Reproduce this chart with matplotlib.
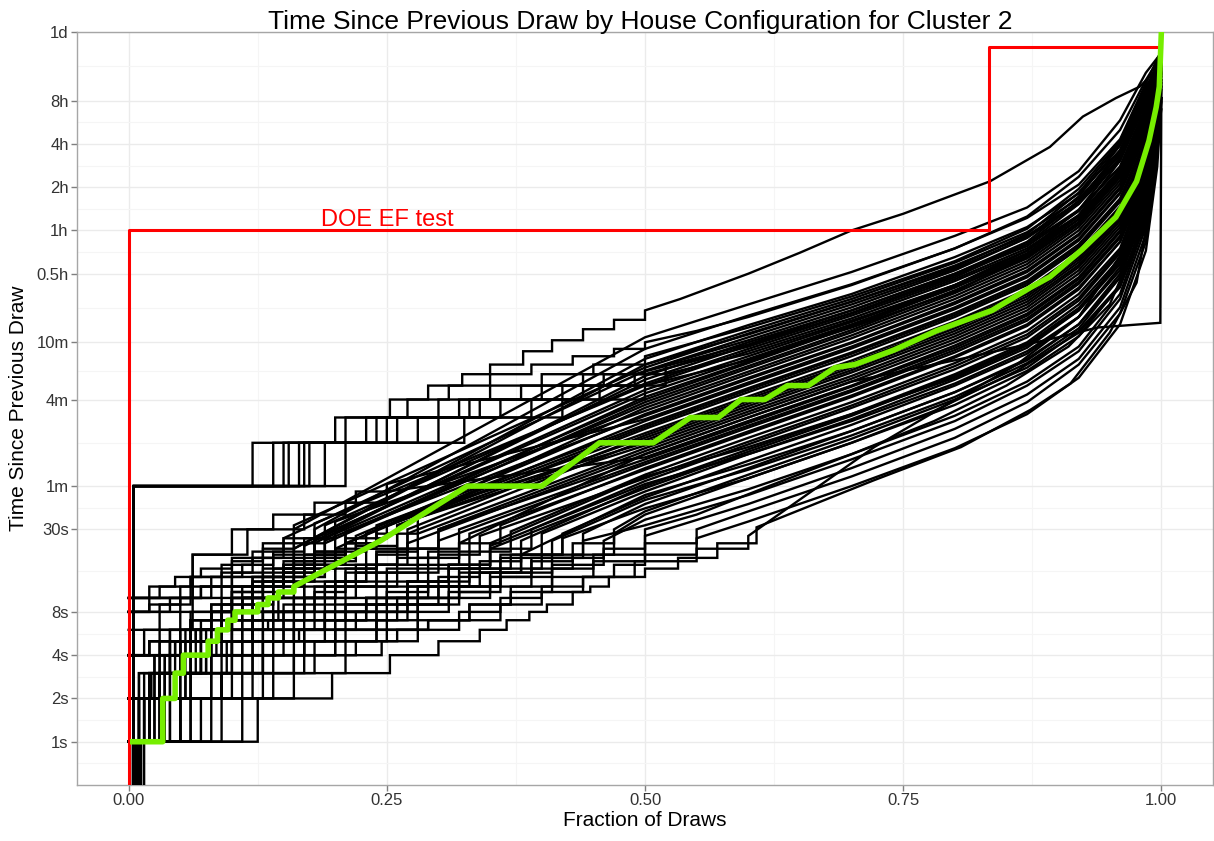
import matplotlib
matplotlib.use("Agg")
import matplotlib.pyplot as plt
from matplotlib.ticker import NullFormatter
import numpy as np

plt.rcParams["font.family"] = ["Liberation Sans", "DejaVu Sans"]

# ---- data (fraction of draws, seconds since previous draw) ----
TICK_S = [1, 2, 4, 8, 30, 60, 240, 600, 1800, 3600, 7200, 14400, 28800, 86400]
TICK_LBL = ["1s", "2s", "4s", "8s", "30s", "1m", "4m", "10m", "0.5h", "1h", "2h", "4h", "8h", "1d"]
X_TICKS = [0.0, 0.25, 0.5, 0.75, 1.0]

# DOE EF test profile
DOE_X = [0.0, 0.0, 0.8333, 0.8333, 1.0]
DOE_S = [0.01, 3600, 3600, 68400, 68400]

# cluster median house (green); first GREEN_NSTEP knots are second-level steps
GREEN_X = [0.004, 0.033, 0.045, 0.053, 0.077, 0.086, 0.096, 0.103, 0.125, 0.135, 0.145, 0.16,
           0.244, 0.328, 0.40, 0.456, 0.508, 0.544, 0.571, 0.593, 0.616, 0.638, 0.658, 0.684,
           0.703, 0.741, 0.782, 0.836, 0.873, 0.892, 0.923, 0.956, 0.976, 0.988, 0.995, 0.998, 1.0]
GREEN_S = [1, 2, 3, 4, 5, 6, 7, 8, 9, 10, 11, 12,
           25, 60, 60, 120, 120, 180, 180, 240, 240, 300, 300, 400,
           420, 530, 720, 1000, 1440, 1710, 2640, 4460, 7900, 15100, 25900, 36000, 86400]
GREEN_NSTEP = 12

# shared tail positions for most houses
T8 = [.6, .7, .8, .87, .92, .96, .985, 1.0]
T9 = [.6, .7, .8, .87, .92, .96, .985, .996, 1.0]

# individual houses (black); first HOUSE_NSTEP[i] knots drawn as steps
HOUSE_X = [
    [0, .125, .197, .253, .30, .34, .366, .388, .405, .43, .447, .465, .50, .532, .57, .608, .722, .806, .873, .912, .95, .976, .992, 1.0],
    [0, .008, .11, .16, .21, .245, .28, .32, .36, .40, .44, .49, .55, .60, .722, .79, .86, .92, .96, .985, 1.0],
    [0, .09, .14, .18, .22, .26, .29, .33, .37, .41, .45, .50, .55, .62, .70, .78, .85, .91, .95, .98, .995, 1.0],
    [0, .07, .12, .16, .2, .24, .28, .31, .35, .39, .43, .47, .5, .6, .7, .78, .86, .92, .96, .985, 1.0],
    [0, .005, .06, .1, .14, .18, .21, .25, .28, .32, .36, .4, .44, .5] + T8,
    [0, .05, .09, .12, .15, .19, .22, .26, .3, .34, .38, .42, .5] + T8,
    [0, .01, .04, .08, .11, .14, .17, .2, .24, .28, .32, .36, .4, .5] + T8,
    [0, .04, .08, .12, .16, .19, .22, .26, .3, .34, .38, .5] + T8,
    [0, .015, .05, .08, .1, .13, .16, .19, .23, .27, .31, .35, .39, .5] + T8,
    [0, .03, .06, .09, .12, .15, .18, .21, .25, .29, .33, .37, .5] + T8,
    [0, .03, .06, .1, .13, .17, .2, .24, .28, .32, .36, .5] + T8,
    [0, .02, .045, .07, .09, .11, .14, .17, .2, .24, .28, .32, .5] + T8,
    [0, .005, .062, .115, .17, .21, .25, .5] + T8,
    [0, .025, .05, .075, .1, .12, .14, .17, .2, .23, .26, .3, .5] + T8,
    [0, .02, .05, .08, .12, .15, .18, .21, .24, .28, .5] + T8,
    [0, .012, .035, .055, .075, .095, .12, .15, .18, .21, .24, .27, .5] + T8,
    [0, .03, .06, .09, .12, .15, .18, .21, .24, .27, .5] + T8,
    [0, .02, .04, .06, .08, .1, .12, .145, .17, .2, .23, .26, .5] + T8,
    [0, .03, .06, .09, .12, .15, .18, .21, .24, .5] + T8,
    [0, .062, .1, .14, .18, .22, .25, .5] + T8,
    [0, .015, .03, .05, .07, .09, .11, .13, .16, .19, .22, .5] + T8,
    [0, .02, .04, .06, .08, .1, .12, .14, .17, .2, .5] + T8,
    [0, .005, .02, .035, .05, .07, .09, .11, .13, .16, .19, .5] + T8,
    [0, .02, .04, .06, .08, .1, .12, .15, .18, .21, .5] + T8,
    [0, .01, .025, .04, .055, .07, .09, .11, .14, .17, .2, .5] + T8,
    [0, .04, .07, .1, .13, .16, .19, .5] + T8,
    [0, .015, .03, .045, .06, .08, .1, .12, .15, .18, .5] + T8,
    [0, .02, .045, .07, .1, .13, .16, .5] + T8,
    [0, .01, .025, .04, .06, .08, .1, .13, .16, .5] + T8,
    [0, .05, .1, .14, .18, .5] + T8,
    [0, .06, .1, .13, .16, .5] + T8,
    # second batch
    [0, .004, .05, .09, .13, .17, .2, .24, .27, .31, .35, .39, .43, .47, .5] + T9,
    [0, .06, .1, .13, .16, .19, .23, .27, .31, .35, .5] + T9,
    [0, .02, .045, .065, .085, .11, .135, .16, .19, .22, .26, .3, .34, .5] + T9,
    [0, .006, .03, .055, .08, .1, .12, .15, .18, .21, .25, .29, .33, .5] + T9,
    [0, .04, .07, .1, .13, .16, .19, .22, .26, .3, .5] + T9,
    [0, .015, .03, .05, .07, .09, .11, .13, .16, .19, .22, .26, .3, .5] + T9,
    [0, .03, .055, .08, .1, .12, .145, .17, .2, .23, .27, .5] + T9,
    [0, .01, .03, .045, .06, .08, .1, .12, .14, .17, .2, .24, .28, .5] + T9,
    [0, .03, .06, .09, .12, .15, .18, .21, .25, .5] + T9,
    [0, .01, .025, .04, .055, .07, .09, .11, .13, .16, .19, .22, .26, .5] + T9,
    [0, .02, .05, .08, .11, .14, .17, .2, .24, .5] + T9,
    [0, .008, .02, .035, .05, .065, .08, .1, .12, .14, .17, .2, .23, .5] + T9,
    [0, .02, .04, .06, .08, .1, .12, .15, .18, .21, .5] + T9,
    [0, .01, .022, .035, .05, .065, .08, .1, .12, .15, .18, .21, .5] + T9,
    [0, .02, .05, .08, .11, .14, .17, .2, .5] + T9,
    [0, .005, .015, .03, .045, .06, .075, .09, .11, .13, .16, .19, .5] + T9,
    [0, .02, .04, .06, .08, .1, .13, .16, .19, .5] + T9,
    [0, .01, .02, .035, .05, .065, .08, .1, .12, .15, .18, .5] + T9,
    [0, .03, .06, .09, .12, .15, .18, .5] + T9,
    [0, .01, .025, .04, .055, .07, .09, .11, .14, .17, .5] + T9,
    [0, .015, .03, .05, .07, .09, .12, .15, .5] + T9,
    [0, .01, .02, .03, .045, .06, .08, .1, .13, .16, .5] + T9,
    # third batch (low houses)
    [0, .06, .11, .16, .2, .24, .28, .32, .36, .4, .44, .47, .5, .55] + T9,
    [0, .012, .08, .13, .17, .21, .25, .29, .33, .37, .41, .45, .5, .55] + T9,
    [0, .04, .09, .13, .17, .2, .24, .28, .32, .36, .41, .46, .5] + T9,
    [0, .03, .07, .11, .15, .19, .23, .27, .31, .35, .39, .44, .5] + T9,
    [0, .009, .05, .09, .12, .16, .2, .24, .28, .32, .36, .41, .46, .5] + T9,
    [0, .05, .09, .13, .17, .21, .25, .29, .33, .37, .42, .5] + T9,
    [0, .025, .06, .095, .13, .165, .2, .24, .28, .32, .36, .41, .5] + T9,
    [0, .01, .05, .09, .13, .17, .21, .25, .29, .33, .38, .5] + T9,
    [0, .035, .07, .1, .13, .16, .19, .23, .27, .31, .35, .5] + T9,
    [0, .02, .045, .07, .1, .13, .16, .19, .23, .27, .31, .35, .5] + T9,
    # flat near 12 min at the end
    [0, .02, .05, .08, .11, .14, .17, .2, .24, .28, .32, .5, .6, .7, .8, .86, .9, .938, .999, 1.0],
    # minute-resolution houses
    [0, .005, .12, .2, .253, .29, .323, .35, .382, .41, .44, .47, .50, .534, .6, .65, .70, .75, .834, .892, .924, .956, .979, .995, 1.0],
    [0, .005, .14, .21, .27, .31, .35, .39, .43, .47, .5, .55] + T8,
    [0, .005, .155, .23, .30, .35, .40, .45, .5] + T8,
    [0, .005, .165, .25, .33, .40, .46, .52] + T8,
    [0, .005, .175, .28, .36, .44, .5] + T8,
    [0, .005, .19, .3, .39, .456, .52] + T8,
    [0, .005, .21, .325, .42, .5] + T8,
    [0, .005, .15, .24, .32, .38, .44, .5] + T8,
    [0, .005, .17, .26, .34, .42, .49] + T8,
]
HOUSE_S = [
    [1, 2, 3, 4, 5, 6, 7, 8, 9, 11, 12, 14, 16, 19, 24, 31, 66, 112, 203, 310, 700, 1560, 7000, 30000],
    [.05, 1, 2, 3, 4, 5, 6, 7, 9, 11, 14, 18, 22, 27, 112, 216, 420, 900, 2400, 9000, 40000],
    [1, 2, 3, 4, 5, 6, 7, 9, 12, 16, 20, 30, 38, 60, 100, 170, 300, 560, 1100, 3500, 12000, 30000],
    [1, 2, 3, 4, 5, 6, 8, 10, 12, 16, 20, 28, 38, 68, 120, 200, 380, 700, 1450, 4500, 25000],
    [.05, 1, 2, 3, 4, 5, 6, 8, 10, 12, 16, 20, 28, 45, 80, 145, 270, 450, 800, 1700, 5000, 36000],
    [1, 2, 3, 4, 5, 6, 7, 9, 12, 15, 20, 28, 50, 90, 160, 300, 500, 900, 1900, 6000, 42000],
    [.05, 1, 2, 3, 4, 5, 6, 8, 10, 12, 16, 20, 28, 55, 100, 175, 330, 550, 1000, 2100, 6500, 30000],
    [2, 3, 4, 5, 6, 7, 8, 10, 14, 18, 25, 60, 108, 190, 360, 600, 1100, 2300, 7000, 45000],
    [.05, 1, 2, 3, 4, 5, 6, 8, 10, 13, 17, 22, 30, 65, 117, 210, 390, 650, 1170, 2500, 7500, 38000],
    [1, 2, 3, 4, 5, 6, 7, 9, 12, 16, 21, 29, 72, 130, 230, 430, 720, 1300, 2700, 8000, 50000],
    [4, 5, 6, 7, 8, 10, 12, 15, 19, 24, 32, 80, 144, 256, 480, 800, 1440, 3000, 8500, 40000],
    [1, 2, 3, 4, 5, 6, 8, 10, 13, 17, 22, 30, 88, 158, 280, 530, 880, 1580, 3300, 9000, 52000],
    [.05, 10, 20, 30, 38, 46, 55, 95, 170, 300, 570, 950, 1700, 3600, 9500, 45000],
    [1, 2, 3, 4, 5, 6, 8, 10, 13, 17, 22, 30, 105, 190, 335, 630, 1050, 1900, 4000, 10500, 55000],
    [8, 9, 10, 12, 14, 16, 20, 24, 28, 36, 115, 207, 370, 690, 1150, 2070, 4300, 11500, 48000],
    [.05, 1, 2, 3, 4, 5, 6, 8, 11, 15, 20, 28, 125, 225, 400, 750, 1250, 2250, 4700, 12500, 56000],
    [2, 3, 4, 5, 7, 9, 12, 16, 21, 30, 135, 243, 430, 810, 1350, 2430, 5100, 13500, 60000],
    [1, 2, 3, 4, 5, 6, 8, 10, 13, 17, 22, 32, 150, 270, 480, 900, 1500, 2700, 5700, 15000, 50000],
    [4, 6, 8, 10, 12, 15, 19, 24, 32, 160, 288, 510, 960, 1600, 2880, 6000, 16000, 58000],
    [6, 20, 30, 38, 46, 55, 62, 175, 315, 560, 1050, 1750, 3150, 6600, 17500, 62000],
    [1, 2, 3, 4, 5, 6, 8, 10, 14, 19, 27, 190, 340, 600, 1140, 1900, 3400, 7200, 19000, 55000],
    [2, 3, 4, 5, 6, 8, 10, 12, 16, 22, 210, 375, 670, 1260, 2100, 3800, 8000, 21000, 64000],
    [.05, 1, 2, 3, 4, 6, 8, 10, 13, 17, 24, 230, 410, 730, 1380, 2300, 4100, 8700, 23000, 60000],
    [4, 5, 6, 7, 8, 10, 12, 15, 20, 28, 250, 440, 790, 1500, 2500, 4500, 9500, 25000, 66000],
    [1, 2, 3, 4, 5, 6, 8, 10, 14, 20, 30, 280, 480, 830, 1500, 2450, 4300, 9000, 24000, 58000],
    [8, 10, 12, 15, 19, 24, 32, 310, 540, 920, 1650, 2700, 4600, 9500, 24000, 52000],
    [1, 3, 4, 5, 6, 8, 10, 13, 17, 24, 350, 600, 1000, 1800, 2900, 5000, 10000, 26000, 60000],
    [10, 12, 14, 16, 19, 24, 32, 400, 690, 1150, 2050, 3300, 5700, 11500, 30000, 62000],
    [2, 3, 4, 5, 7, 9, 12, 16, 22, 460, 790, 1300, 2350, 3800, 6500, 13000, 33000, 58000],
    [4, 8, 14, 20, 30, 540, 920, 1520, 2700, 4400, 7500, 15500, 38000, 64000],
    [10, 14, 18, 22, 30, 650, 1100, 1850, 3300, 5200, 9300, 21000, 45000, 62000],
    # second batch
    [.05, 1, 2, 3, 4, 5, 6, 7, 9, 11, 14, 18, 24, 30, 40, 72, 128, 240, 400, 720, 1500, 4000, 12000, 30000],
    [2, 3, 4, 5, 6, 7, 9, 12, 16, 22, 58, 104, 185, 350, 580, 1040, 2200, 6500, 20000, 45000],
    [1, 2, 3, 4, 5, 6, 7, 8, 10, 12, 15, 20, 27, 68, 122, 218, 410, 680, 1220, 2600, 7500, 24000, 50000],
    [.05, 1, 2, 3, 4, 5, 6, 7, 9, 12, 16, 21, 28, 78, 140, 250, 470, 780, 1400, 3000, 8000, 26000, 48000],
    [4, 5, 6, 7, 8, 10, 12, 15, 19, 25, 85, 153, 272, 510, 850, 1530, 3200, 8500, 28000, 56000],
    [1, 2, 3, 4, 5, 6, 7, 8, 10, 13, 17, 22, 30, 92, 165, 295, 550, 920, 1650, 3500, 9200, 30000, 58000],
    [2, 3, 4, 5, 6, 7, 8, 10, 13, 17, 24, 100, 180, 320, 600, 1000, 1800, 3800, 10000, 32000, 60000],
    [.05, 1, 2, 3, 4, 5, 6, 8, 10, 12, 16, 21, 28, 110, 198, 350, 660, 1100, 2000, 4200, 11000, 34000, 62000],
    [8, 9, 10, 12, 14, 17, 21, 26, 34, 120, 216, 384, 720, 1200, 2160, 4500, 12000, 36000, 60000],
    [1, 2, 3, 4, 5, 6, 7, 9, 11, 14, 18, 23, 32, 130, 234, 416, 780, 1300, 2340, 4900, 13000, 38000, 64000],
    [4, 5, 6, 8, 10, 13, 17, 22, 30, 140, 252, 448, 840, 1400, 2520, 5300, 14000, 40000, 60000],
    [.05, 1, 2, 3, 4, 5, 6, 7, 9, 12, 16, 21, 28, 155, 280, 500, 930, 1550, 2800, 5900, 15500, 42000, 62000],
    [2, 3, 4, 5, 6, 8, 10, 13, 17, 24, 170, 306, 544, 1020, 1700, 3060, 6500, 17000, 44000, 64000],
    [1, 2, 3, 4, 5, 6, 7, 9, 12, 16, 21, 29, 185, 333, 592, 1110, 1850, 3330, 7000, 18500, 46000, 60000],
    [8, 10, 12, 14, 17, 21, 26, 34, 200, 360, 640, 1200, 2000, 3600, 7600, 20000, 48000, 64000],
    [.05, 1, 2, 3, 4, 5, 6, 8, 10, 13, 18, 25, 220, 396, 704, 1320, 2200, 3960, 8400, 22000, 50000, 62000],
    [4, 5, 6, 7, 9, 11, 14, 19, 26, 240, 430, 770, 1440, 2400, 4300, 9100, 24000, 52000, 64000],
    [1, 2, 3, 4, 5, 6, 8, 10, 13, 18, 26, 265, 460, 800, 1450, 2350, 4100, 8600, 22000, 50000, 62000],
    [10, 12, 14, 17, 21, 26, 33, 300, 520, 880, 1600, 2600, 4500, 9400, 24000, 52000, 64000],
    [2, 3, 4, 5, 6, 7, 9, 12, 16, 23, 330, 570, 960, 1750, 2800, 4900, 10000, 26000, 54000, 64000],
    [4, 6, 8, 10, 12, 15, 19, 26, 380, 650, 1100, 1950, 3200, 5500, 11000, 28000, 55000, 64000],
    [1, 2, 3, 4, 5, 6, 8, 11, 15, 22, 420, 720, 1200, 2150, 3500, 6000, 12000, 30000, 56000, 62000],
    # third batch (low houses)
    [1, 2, 3, 4, 5, 6, 7, 8, 10, 12, 14, 17, 20, 26, 34, 60, 110, 190, 340, 800, 2600, 10000, 28000],
    [.05, 1, 2, 3, 4, 5, 6, 7, 9, 11, 14, 18, 24, 30, 40, 70, 130, 230, 420, 950, 3000, 12000, 34000],
    [1, 2, 3, 4, 5, 6, 7, 9, 11, 14, 17, 22, 27, 45, 80, 150, 260, 460, 1050, 3400, 14000, 38000],
    [2, 3, 4, 5, 6, 7, 8, 10, 12, 15, 19, 25, 32, 52, 92, 170, 300, 520, 1200, 3800, 15000, 40000],
    [.05, 1, 2, 3, 4, 5, 6, 8, 10, 12, 15, 19, 25, 35, 57, 100, 185, 320, 560, 1300, 4200, 16000, 44000],
    [4, 5, 6, 7, 8, 9, 11, 13, 16, 20, 26, 42, 68, 120, 220, 380, 660, 1500, 4800, 18000, 46000],
    [1, 2, 3, 4, 5, 6, 7, 9, 12, 15, 19, 25, 48, 78, 135, 250, 430, 750, 1700, 5200, 20000, 50000],
    [.05, 1, 2, 3, 4, 6, 8, 10, 12, 15, 20, 52, 85, 145, 270, 460, 800, 1800, 5600, 21000, 48000],
    [2, 3, 4, 5, 6, 7, 8, 10, 13, 17, 23, 62, 100, 170, 310, 520, 900, 2000, 6200, 23000, 52000],
    [1, 2, 3, 4, 5, 6, 7, 8, 10, 13, 17, 24, 70, 112, 190, 340, 570, 1000, 2200, 6800, 25000, 54000],
    # flat near 12 min at the end
    [1, 2, 3, 4, 5, 6, 8, 10, 13, 17, 24, 100, 180, 320, 450, 560, 650, 760, 820, 36000],
    # minute-resolution houses
    [.05, 60, 120, 180, 240, 300, 360, 420, 520, 620, 740, 860, 1000, 1200, 1800, 2520, 3600, 4700, 7900, 13700, 22300, 30000, 36000, 47000, 60000],
    [.05, 60, 120, 180, 240, 300, 360, 420, 480, 540, 600, 720, 900, 1500, 2700, 4500, 8500, 18000, 40000, 60000],
    [.05, 60, 120, 180, 240, 300, 360, 420, 480, 760, 1250, 2200, 3700, 7000, 15000, 36000, 55000],
    [.05, 60, 120, 180, 240, 300, 360, 420, 620, 1050, 1900, 3200, 6200, 14000, 34000, 52000],
    [.05, 60, 120, 180, 240, 300, 360, 560, 950, 1700, 2900, 5500, 12500, 32000, 50000],
    [.05, 60, 120, 180, 240, 300, 360, 500, 850, 1500, 2600, 5000, 11500, 30000, 48000],
    [.05, 60, 120, 180, 240, 300, 450, 760, 1350, 2400, 4600, 11000, 28000, 46000],
    [.05, 60, 120, 180, 240, 300, 360, 420, 680, 1150, 2000, 3400, 6600, 14500, 35000, 56000],
    [.05, 60, 120, 180, 240, 300, 360, 580, 1000, 1800, 3000, 5800, 13000, 33000, 50000],
]
HOUSE_NSTEP = [16, 14, 12, 12, 13, 12, 13, 11, 13, 12, 11, 12, 7, 12, 10, 12, 10, 12, 9, 7, 11, 10, 11, 10, 11, 7, 10, 7, 9, 5, 5,
               14, 10, 13, 13, 10, 13, 11, 13, 9, 13, 9, 13, 10, 12, 8, 12, 9, 11, 7, 10, 8, 10,
               14, 14, 13, 12, 13, 11, 12, 11, 11, 12,
               11,
               13, 11, 9, 8, 7, 7, 6, 8, 7]


def step_path(xs, ss, n):
    # first n knots as post-steps, remaining knots joined directly
    px, py = [], []
    for i in range(n - 1):
        px += [xs[i], xs[i + 1]]
        py += [ss[i], ss[i]]
    return px + list(xs[n - 1:]), py + list(ss[n - 1:])


fig = plt.figure(figsize=(12.14, 8.41), dpi=100)
ax = fig.add_axes([77 / 1214, 1 - 785 / 841, 1136 / 1214, 753 / 841])

for xs, ss, n in zip(HOUSE_X, HOUSE_S, HOUSE_NSTEP):
    px, py = step_path(xs, ss, n)
    ax.plot(px, py, color="black", lw=1.7, solid_joinstyle="miter", zorder=3)

ax.plot(DOE_X, DOE_S, color="#FF0000", lw=2.2, zorder=4)
px, py = step_path(GREEN_X, GREEN_S, GREEN_NSTEP)
ax.plot(px, py, color="#76EE00", lw=4.0, zorder=5)
ax.annotate("DOE EF test", xy=(0.25, 3600), xytext=(0, 3), textcoords="offset points",
            ha="center", va="baseline", color="#FF0000", fontsize=17, zorder=6)

ax.set_yscale("log")
ax.set_ylim(0.5, 86400)
ax.set_xlim(-0.05, 1.05)
ax.set_yticks(TICK_S)
ax.set_yticklabels(TICK_LBL)
ax.set_xticks(X_TICKS)
ax.set_xticklabels([f"{v:.2f}" for v in X_TICKS])
ax.set_yticks([np.sqrt(a * b) for a, b in zip(TICK_S[:-1], TICK_S[1:])] + [np.sqrt(0.5)], minor=True)
ax.set_xticks([0.125, 0.375, 0.625, 0.875], minor=True)
ax.yaxis.set_minor_formatter(NullFormatter())
ax.xaxis.set_minor_formatter(NullFormatter())
ax.tick_params(which="minor", length=0)
ax.tick_params(which="major", length=4, width=1, color="#7F7F7F", labelsize=12, labelcolor="#333333", pad=2)
ax.grid(which="major", color="#EBEBEB", lw=1.0, zorder=0)
ax.grid(which="minor", color="#F5F5F5", lw=0.8, zorder=0)
ax.set_axisbelow(True)
for sp in ax.spines.values():
    sp.set_color("#A6A6A6")
    sp.set_linewidth(1.0)

ax.set_xlabel("Fraction of Draws", fontsize=15, labelpad=2)
ax.set_ylabel("Time Since Previous Draw", fontsize=15, labelpad=6)
fig.text(640 / 1214, 1 - 29 / 841, "Time Since Previous Draw by House Configuration for Cluster 2",
         ha="center", va="baseline", fontsize=19)

fig.savefig("out.png", dpi=100)
